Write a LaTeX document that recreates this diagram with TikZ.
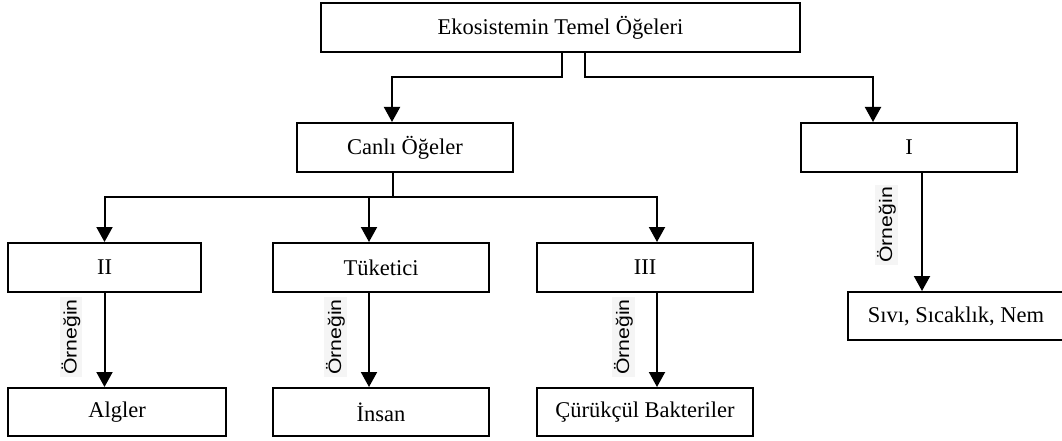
\documentclass[tikz,border=0pt]{standalone}
\usepackage{fontspec}
\setmainfont{Liberation Serif}
\newfontfamily\lblfont{Liberation Sans}
\usetikzlibrary{arrows.meta,calc}
\tikzset{
  box/.style={draw, line width=2pt, inner sep=0pt, minimum height=49pt,
    font=\fontsize{22.5}{27}\selectfont},
  arr/.style={line width=2pt, -{Triangle[length=15pt,width=16pt]}},
  conn/.style={line width=2pt},
  lbl/.style={rotate=90, anchor=south, fill=black!4, inner sep=2pt,
    font=\lblfont\fontsize{18}{21}\selectfont},
}
\newcommand{\ornek}{\scalebox{1.18}[1]{Örneğin}}
\begin{document}
\begin{tikzpicture}[x=1pt,y=-1pt]
\useasboundingbox[fill=white] (0,0) rectangle (1062,441);
% boxes
\node[box, minimum width=479pt] (top) at (560.5,27.5) {Ekosistemin Temel Öğeleri};
\node[box, minimum width=216pt] (canli) at (405,147.5) {Canlı Öğeler};
\node[box, minimum width=216pt] (one) at (909,147.5) {I};
\node[box, minimum width=193pt] (two) at (104.5,267.5) {II};
\node[box, minimum width=216pt] (tuk) at (381,267.5) {Tüketici};
\node[box, minimum width=216pt] (three) at (645,267.5) {III};
\node[box, minimum width=216pt, minimum height=48pt] (siv) at (956,316) {Sıvı, Sıcaklık, Nem};
\node[box, minimum width=218pt, minimum height=48pt] (alg) at (117,412) {Algler};
\node[box, minimum width=216pt, minimum height=48pt] (ins) at (381,412) {İnsan};
\node[box, minimum width=216pt, minimum height=48pt] (cur) at (645,412) {Çürükçül Bakteriler};
% top connectors
\draw[arr] ([xshift=1.5pt]top.south) -- ++(0,24) -| ([xshift=-13pt]canli.north);
\draw[arr] ([xshift=24.5pt]top.south) -- ++(0,24) -| ([xshift=-36pt]one.north);
% canli branches
\coordinate (j) at ($([xshift=-12pt]canli.south)+(0,24)$);
\draw[conn] ([xshift=-12pt]canli.south) -- (j);
\draw[arr] (j) -| (two.north);
\draw[arr] (j) -| ([xshift=-12pt]tuk.north);
\draw[arr] (j) -| ([xshift=12pt]three.north);
% example arrows
\draw[arr] (two.south) -- (two.south |- alg.north);
\draw[arr] ([xshift=-12pt]tuk.south) -- ([xshift=-12pt]tuk.south |- ins.north);
\draw[arr] ([xshift=12pt]three.south) -- ([xshift=12pt]three.south |- cur.north);
\draw[arr] ([xshift=13pt]one.south) -- ([xshift=13pt]one.south |- siv.north);
% labels
\node[lbl] (l2) at ($(two.south)!0.47!(two.south |- alg.north)+(-22,0)$) {\ornek};
\node[lbl] (l4) at ($([xshift=-12pt]tuk.south)!0.47!([xshift=-12pt]tuk.south |- ins.north)+(-22,0)$) {\ornek};
\node[lbl] (l3) at ($([xshift=12pt]three.south)!0.47!([xshift=12pt]three.south |- cur.north)+(-22,0)$) {\ornek};
\node[lbl] (l1) at ($([xshift=13pt]one.south)!0.44!([xshift=13pt]one.south |- siv.north)+(-24,0)$) {\ornek};
\end{tikzpicture}
\end{document}
